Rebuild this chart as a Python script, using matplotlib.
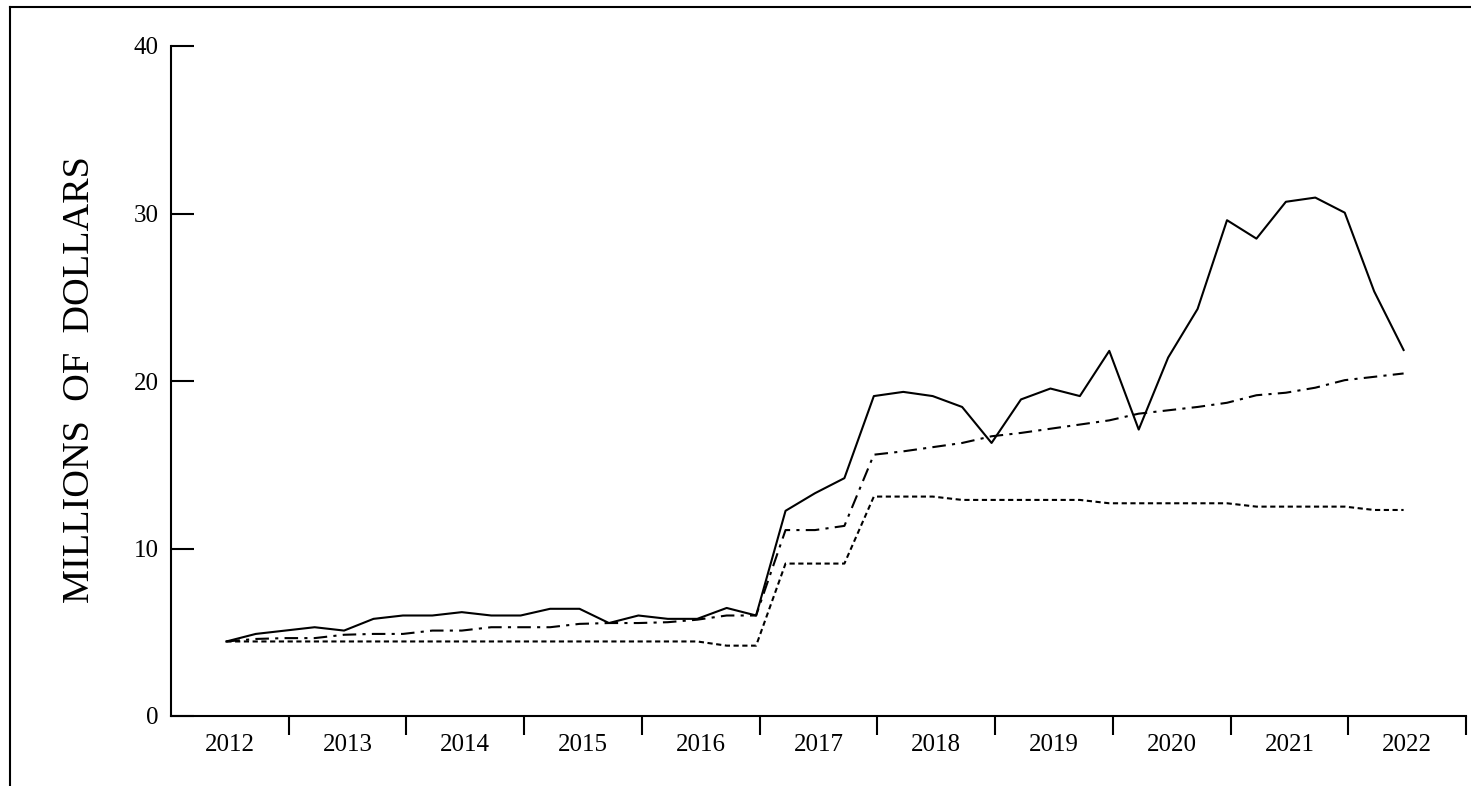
import matplotlib.pyplot as plt
from matplotlib.lines import Line2D
import numpy as np

plt.rcParams['font.family'] = ['Liberation Serif', 'DejaVu Serif']

# year labels on the x axis
years = [2012, 2013, 2014, 2015, 2016, 2017, 2018, 2019, 2020, 2021, 2022]

# quarterly values, 2012 Q1 .. 2022 Q1 (millions of dollars)
solid_vals = [4.45, 4.9, 5.1, 5.3, 5.1, 5.8, 6.0, 6.0, 6.2, 6.0, 6.0,
              6.4, 6.4, 5.55, 6.0, 5.8, 5.8, 6.45, 6.0, 12.25, 13.3,
              14.2, 19.1, 19.35, 19.1, 18.45, 16.3, 18.9, 19.55, 19.1, 21.8,
              17.1, 21.4, 24.3, 29.6, 28.5, 30.7, 30.95, 30.05, 25.35, 21.85]
dashdot_vals = [4.45, 4.6, 4.65, 4.65, 4.85, 4.9, 4.9, 5.1, 5.1, 5.3, 5.3,
                5.3, 5.5, 5.55, 5.55, 5.6, 5.75, 6.0, 6.0, 11.1, 11.1,
                11.35, 15.6, 15.8, 16.05, 16.3, 16.7, 16.9, 17.15, 17.4, 17.65,
                18.05, 18.25, 18.45, 18.7, 19.15, 19.3, 19.6, 20.05, 20.25, 20.45]
dotted_vals = [4.45, 4.45, 4.45, 4.45, 4.45, 4.45, 4.45, 4.45, 4.45, 4.45, 4.45,
               4.45, 4.45, 4.45, 4.45, 4.45, 4.45, 4.2, 4.2, 9.1, 9.1,
               9.1, 13.1, 13.1, 13.1, 12.9, 12.9, 12.9, 12.9, 12.9, 12.7,
               12.7, 12.7, 12.7, 12.7, 12.5, 12.5, 12.5, 12.5, 12.3, 12.3]

yticks = [0, 10, 20, 30, 40]

# x position of each quarter: year slot + quarter offset
n = len(solid_vals)
xq = 0.47 + 0.25 * np.arange(n)

fig = plt.figure(figsize=(14.71, 7.86), dpi=100)
ax = fig.add_axes([171/1471, 70/786, (1466-171)/1471, (716-46)/786])

ax.plot(xq, solid_vals, color='black', lw=1.5, linestyle='-')
ax.plot(xq, dashdot_vals, color='black', lw=1.5, linestyle=(0, (6.5, 3, 1.5, 3)))
ax.plot(xq, dotted_vals, color='black', lw=1.5, linestyle=(0, (2.5, 1.7)))

ax.set_xlim(0, len(years))
ax.set_ylim(0, 40)

# ticks between years, labels centred in each year slot
ax.set_xticks(np.arange(1, len(years) + 1))
ax.set_xticklabels([])
ax.set_xticks(np.arange(len(years)) + 0.5, minor=True)
ax.set_xticklabels([str(y) for y in years], minor=True)
ax.tick_params(axis='x', which='major', direction='out', length=13.7, width=1.5)
ax.tick_params(axis='x', which='minor', length=0, pad=13, labelsize=18)

ax.set_yticks(yticks)
ax.set_yticklabels([str(v) for v in yticks])
ax.tick_params(axis='y', direction='in', length=16.5, width=1.5, pad=9, labelsize=18)

for side in ['top', 'right']:
    ax.spines[side].set_visible(False)
for side in ['left', 'bottom']:
    ax.spines[side].set_linewidth(1.5)

fig.text(80/1471, 1 - 380/786, 'MILLIONS  OF  DOLLARS', rotation=90,
         ha='center', va='center', fontsize=27.5)

# page frame (left and top edges)
fig.add_artist(Line2D([10/1471, 10/1471], [0, 1 - 7/786], color='black', lw=1.5))
fig.add_artist(Line2D([10/1471, 1], [1 - 7/786, 1 - 7/786], color='black', lw=1.5))

fig.savefig('out.png', dpi=100)
